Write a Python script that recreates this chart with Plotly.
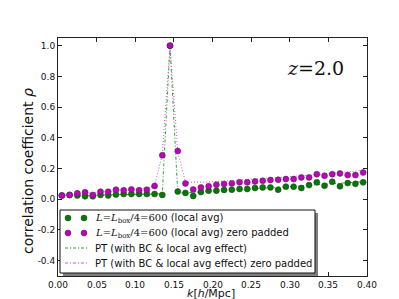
import plotly.graph_objects as go

k = [0.005 + 0.01 * i for i in range(40)]

rho_local = [0.024, 0.028, 0.024, 0.019, 0.019, 0.028, 0.024, 0.030, 0.034, 0.034,
             0.034, 0.034, 0.034, 0.028, 1.0, 0.050, 0.041, 0.021, 0.047, 0.056,
             0.056, 0.060, 0.062, 0.067, 0.067, 0.073, 0.077, 0.077, 0.062, 0.082,
             0.082, 0.073, 0.092, 0.110, 0.088, 0.114, 0.084, 0.105, 0.100, 0.110]

rho_zero = [0.024, 0.028, 0.039, 0.045, 0.028, 0.049, 0.049, 0.062, 0.058, 0.064,
            0.058, 0.062, 0.086, 0.286, 1.0, 0.314, 0.103, 0.063, 0.077, 0.084,
            0.095, 0.099, 0.103, 0.110, 0.110, 0.116, 0.120, 0.125, 0.127, 0.131,
            0.131, 0.142, 0.142, 0.163, 0.153, 0.163, 0.168, 0.157, 0.157, 0.174]

pt_local = [0.020, 0.022, 0.024, 0.025, 0.026, 0.027, 0.028, 0.029, 0.030, 0.031,
            0.032, 0.033, 0.034, 0.035, 1.0, 0.040, 0.042, 0.044, 0.046, 0.050,
            0.052, 0.055, 0.058, 0.061, 0.064, 0.067, 0.070, 0.073, 0.076, 0.079,
            0.082, 0.085, 0.088, 0.091, 0.095, 0.099, 0.103, 0.107, 0.111, 0.115]

pt_zero = [0.025, 0.030, 0.035, 0.040, 0.045, 0.050, 0.053, 0.056, 0.060, 0.063,
           0.066, 0.070, 0.090, 0.290, 1.0, 0.310, 0.110, 0.110, 0.110, 0.112,
           0.115, 0.118, 0.121, 0.124, 0.127, 0.130, 0.133, 0.136, 0.140, 0.144,
           0.148, 0.152, 0.156, 0.160, 0.164, 0.168, 0.172, 0.177, 0.182, 0.188]

x_ticks = [0.0, 0.05, 0.10, 0.15, 0.20, 0.25, 0.30, 0.35, 0.40]
x_ticklabels = ["0.00", "0.05", "0.10", "0.15", "0.20", "0.25", "0.30", "0.35", "0.40"]
y_ticks = [-0.4, -0.2, 0.0, 0.2, 0.4, 0.6, 0.8, 1.0]
y_ticklabels = ["-0.4", "-0.2", "0.0", "0.2", "0.4", "0.6", "0.8", "1.0"]

GREEN = "#007a00"
MAG = "#bf00bf"
PT_GREEN = "#22aa22"
PT_MAG = "#ee44ee"
SERIF = "DejaVu Serif"
SANS = "DejaVu Sans"

math_lbl = ('<span style="font-family:%s"><i>L</i>=<i>L</i><sub>box</sub>/4=600</span>' % SERIF)
legend_labels = [math_lbl + " (local avg)",
                 math_lbl + " (local avg) zero padded",
                 "PT (with BC & local avg effect)",
                 "PT (with BC & local avg effect) zero padded"]

# plot area in pixels
L, R, T, B = 50, 359, 30, 268
W, H = 399, 299


def px(xp):
    return (xp - L) / (R - L)


def py(yp):
    return (B - yp) / (B - T)


fig = go.Figure()
fig.add_trace(go.Scatter(
    x=k, y=pt_local, mode="lines", name=legend_labels[2],
    line=dict(color=PT_GREEN, width=1, dash="3px,2px,1px,2px")))
fig.add_trace(go.Scatter(
    x=k, y=pt_zero, mode="lines", name=legend_labels[3],
    line=dict(color=PT_MAG, width=1, dash="1px,2px")))
fig.add_trace(go.Scatter(
    x=k, y=rho_local, mode="markers", name=legend_labels[0],
    marker=dict(color=GREEN, size=6, line=dict(color="#333333", width=0.5))))
fig.add_trace(go.Scatter(
    x=k, y=rho_zero, mode="markers", name=legend_labels[1],
    marker=dict(color=MAG, size=6, line=dict(color="#333333", width=0.5))))

axis_common = dict(showline=True, linecolor="#222222", linewidth=1, mirror="ticks",
                   ticks="inside", ticklen=4, tickcolor="#222222", showgrid=False,
                   zeroline=False, tickfont=dict(family=SANS, size=9, color="#111111"))

fig.update_layout(
    width=W, height=H,
    margin=dict(l=L, r=W - R, t=T, b=H - B),
    paper_bgcolor="white", plot_bgcolor="white",
    xaxis=dict(range=[0, 0.40], tickvals=x_ticks, ticktext=x_ticklabels,
               showticklabels=False, **axis_common),
    yaxis=dict(range=[-0.5, 1.05], tickvals=y_ticks, ticktext=y_ticklabels, **axis_common),
    showlegend=False,
)

# x tick labels placed close to the axis (matplotlib style)
for xv, lbl in zip(x_ticks, x_ticklabels):
    fig.add_annotation(text=lbl, xref="x", yref="paper", x=xv, y=py(277),
                       xanchor="center", yanchor="middle", showarrow=False,
                       font=dict(family=SANS, size=9, color="#111111"))

# manual legend (matplotlib style with shadow)
shapes = []
bx0, bx1, by0, by1 = 52, 307, 202, 265
shapes.append(dict(type="rect", xref="paper", yref="paper", layer="above",
                   x0=px(bx0 + 3), x1=px(bx1 + 3), y0=py(by0 + 3), y1=py(by1 + 3),
                   fillcolor="#7f7f7f", line=dict(width=0)))
shapes.append(dict(type="rect", xref="paper", yref="paper", layer="above",
                   x0=px(bx0), x1=px(bx1), y0=py(by0), y1=py(by1),
                   fillcolor="white", line=dict(color="#111111", width=1)))
row_y = [210, 225, 240, 255]
marker_cols = [GREEN, MAG]
for i in range(2):
    for mx in (60, 76):
        shapes.append(dict(type="circle", xref="paper", yref="paper", layer="above",
                           xsizemode="pixel", ysizemode="pixel",
                           xanchor=px(mx), yanchor=py(row_y[i]),
                           x0=-3, x1=3, y0=-3, y1=3,
                           fillcolor=marker_cols[i], line=dict(color="#333333", width=0.5)))
line_cols = [PT_GREEN, PT_MAG]
for i in range(2):
    shapes.append(dict(type="line", xref="paper", yref="paper", layer="above",
                       x0=px(57), x1=px(80), y0=py(row_y[i + 2]), y1=py(row_y[i + 2]),
                       line=dict(color=line_cols[i], width=1, dash="3px,2px,1px,2px")))
fig.update_layout(shapes=shapes)

for i, lbl in enumerate(legend_labels):
    fig.add_annotation(text=lbl, xref="paper", yref="paper", x=px(85), y=py(row_y[i]),
                       xanchor="left", yanchor="middle", showarrow=False,
                       font=dict(family=SANS, size=10, color="#111111"))

fig.add_annotation(text='<i>z</i>=2.0', xref="paper", yref="paper",
                   x=px(338), y=py(60), xanchor="right", yanchor="middle", showarrow=False,
                   font=dict(family=SERIF, size=19, color="#111111"))
fig.add_annotation(text='correlation coefficient <i>ρ</i>', xref="paper", yref="paper",
                   x=px(20), y=py(163), xanchor="center", yanchor="middle", showarrow=False,
                   textangle=-90, font=dict(family=SANS, size=14, color="#111111"))
fig.add_annotation(text='<i>k</i>[<i>h</i>/Mpc]',
                   xref="paper", yref="paper", x=px(203), y=py(285), xanchor="center", yanchor="middle",
                   showarrow=False, font=dict(family=SANS, size=11, color="#111111"))

fig.write_html("out.html")
